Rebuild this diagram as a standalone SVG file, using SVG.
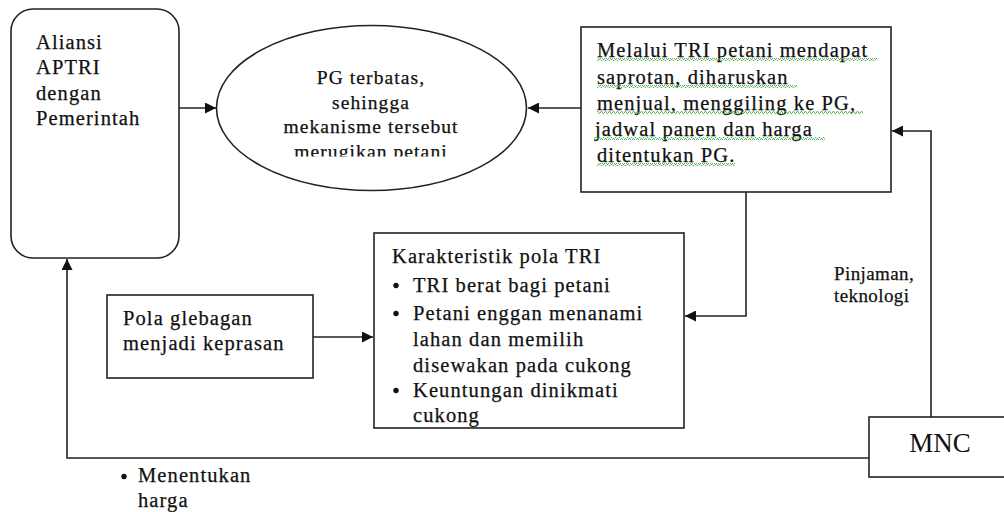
<svg xmlns="http://www.w3.org/2000/svg" width="1004" height="512" viewBox="0 0 1004 512">
<style>
.t{font-family:'Liberation Serif','Times New Roman',serif;font-size:20.5px;fill:#111;stroke:#111;stroke-width:0.25px;letter-spacing:1.1px}
.e{font-size:19.5px}
.s{fill:none;stroke:#222;stroke-width:1.6}
.sh{fill:#fff;stroke:#222;stroke-width:1.6}
</style>
<defs>
<marker id="ah" viewBox="0 0 10 10" refX="10" refY="5" markerWidth="11" markerHeight="11" markerUnits="userSpaceOnUse" orient="auto">
<path d="M0,0 L10,5 L0,10 z" fill="#111"/>
</marker>
<clipPath id="ec"><rect x="200" y="20" width="340" height="136.5"/></clipPath>
<pattern id="wv" width="4" height="3" patternUnits="userSpaceOnUse">
<path d="M0,2.5 L1,0.5 L2,0.5 L3,2.5 L4,2.5" fill="none" stroke="#4caf50" stroke-width="0.9"/>
</pattern>
</defs>
<rect width="1004" height="512" fill="#fff"/>
<g id="connectors">
<line class="s" x1="179" y1="108" x2="216" y2="108" marker-end="url(#ah)"/>
<line class="s" x1="581" y1="108" x2="528" y2="108" marker-end="url(#ah)"/>
<polyline class="s" points="746,192 746,316 685,316" marker-end="url(#ah)"/>
<line class="s" x1="313" y1="337" x2="373" y2="337" marker-end="url(#ah)"/>
<polyline class="s" points="931,417 931,131 892,131" marker-end="url(#ah)"/>
<polyline class="s" points="869,458 67,458 67,259" marker-end="url(#ah)"/>
</g>
<g id="aliansi">
<rect class="sh" x="11" y="9" width="168" height="249" rx="22" ry="22"/>
<text class="t" x="36" y="48.5">Aliansi</text>
<text class="t" x="36" y="74">APTRI</text>
<text class="t" x="36" y="99.5">dengan</text>
<text class="t" x="36" y="125">Pemerintah</text>
</g>
<g id="pg">
<ellipse class="sh" cx="371.5" cy="108" rx="155" ry="82.5"/>
<g text-anchor="middle">
<text class="t e" x="371" y="84">PG terbatas,</text>
<text class="t e" x="371" y="108.5">sehingga</text>
<text class="t e" x="371" y="133">mekanisme tersebut</text>
<text class="t e" x="371" y="158" clip-path="url(#ec)">merugikan petani</text>
</g>
</g>
<g id="melalui">
<rect class="sh" x="581" y="27" width="310" height="165"/>
<text class="t" x="597" y="57">Melalui TRI petani mendapat</text>
<text class="t" x="597" y="83.5">saprotan, diharuskan</text>
<text class="t" x="597" y="110">menjual, menggiling ke PG,</text>
<text class="t" x="595" y="136">jadwal panen dan harga</text>
<text class="t" x="597" y="162">ditentukan PG.</text>
<rect x="597" y="58" width="280" height="3" fill="url(#wv)"/>
<rect x="597" y="85" width="200" height="3" fill="url(#wv)"/>
<rect x="597" y="111" width="266" height="3" fill="url(#wv)"/>
<rect x="595" y="137" width="230" height="3" fill="url(#wv)"/>
<rect x="597" y="163" width="138" height="3" fill="url(#wv)"/>
</g>
<g id="karakteristik">
<rect class="sh" x="374" y="233" width="310" height="195"/>
<text class="t" x="392" y="263">Karakteristik pola TRI</text>
<circle cx="396" cy="285.5" r="2.7" fill="#111"/>
<text class="t" x="413" y="292">TRI berat bagi petani</text>
<circle cx="396" cy="313.5" r="2.7" fill="#111"/>
<text class="t" x="413" y="320">Petani enggan menanami</text>
<text class="t" x="413" y="346">lahan dan memilih</text>
<text class="t" x="413" y="372">disewakan pada cukong</text>
<circle cx="396" cy="390.5" r="2.7" fill="#111"/>
<text class="t" x="413" y="397">Keuntungan dinikmati</text>
<text class="t" x="413" y="422">cukong</text>
</g>
<g id="pola">
<rect class="sh" x="107" y="295" width="206" height="83"/>
<text class="t" x="123" y="325">Pola glebagan</text>
<text class="t" x="123" y="350">menjadi keprasan</text>
</g>
<g id="mnc">
<rect class="sh" x="869" y="417" width="145" height="60"/>
<text x="940" y="452" text-anchor="middle" style="font-family:'Liberation Serif','Times New Roman',serif;font-size:27px;fill:#111">MNC</text>
</g>
<g id="labels">
<text class="t" x="834" y="280" style="font-size:19px;letter-spacing:0.4px">Pinjaman,</text>
<text class="t" x="834" y="302" style="font-size:19px;letter-spacing:0.4px">teknologi</text>
<circle cx="124" cy="476.5" r="2.7" fill="#111"/>
<text class="t" x="138" y="482">Menentukan</text>
<text class="t" x="138" y="507">harga</text>
</g>
</svg>
